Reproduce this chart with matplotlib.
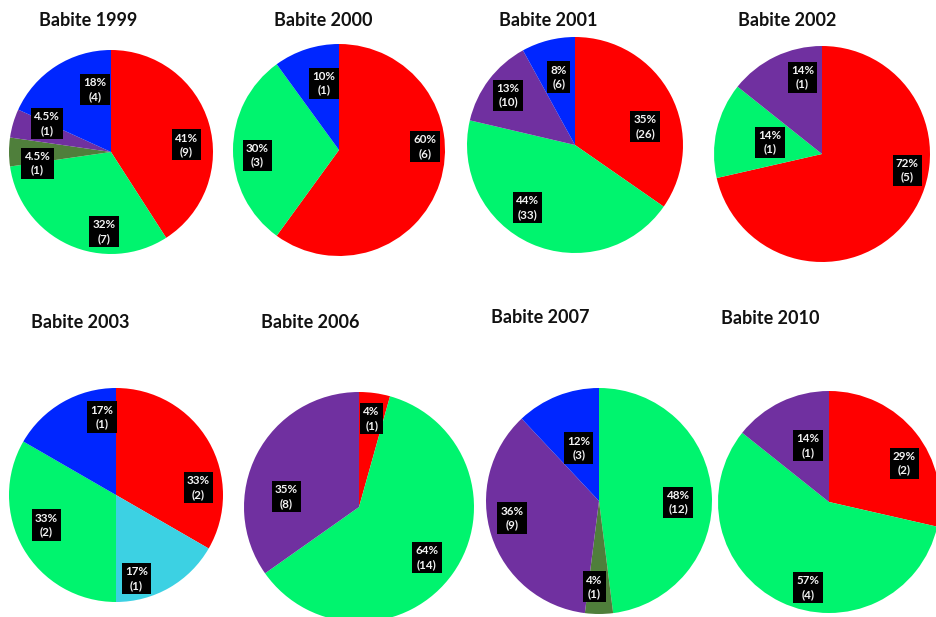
import matplotlib
matplotlib.use("Agg")
import matplotlib.pyplot as plt

plt.rcParams['font.family'] = ['Lato', 'DejaVu Sans']

W, H = 937, 617

# slice categories (colour keys), clockwise from 12 o'clock
cats_1999 = ["red", "green", "olive", "purple", "blue"]
counts_1999 = [9, 7, 1, 1, 4]
pcts_1999 = ["41%", "32%", "4.5%", "4.5%", "18%"]

cats_2000 = ["red", "green", "blue"]
counts_2000 = [6, 3, 1]
pcts_2000 = ["60%", "30%", "10%"]

cats_2001 = ["red", "green", "purple", "blue"]
counts_2001 = [26, 33, 10, 6]
pcts_2001 = ["35%", "44%", "13%", "8%"]

cats_2002 = ["red", "green", "purple"]
counts_2002 = [5, 1, 1]
pcts_2002 = ["72%", "14%", "14%"]

cats_2003 = ["red", "cyan", "green", "blue"]
counts_2003 = [2, 1, 2, 1]
pcts_2003 = ["33%", "17%", "33%", "17%"]

cats_2006 = ["red", "green", "purple"]
counts_2006 = [1, 14, 8]
pcts_2006 = ["4%", "64%", "35%"]

cats_2007 = ["green", "olive", "purple", "blue"]
counts_2007 = [12, 1, 9, 3]
pcts_2007 = ["48%", "4%", "36%", "12%"]

cats_2010 = ["red", "green", "purple"]
counts_2010 = [2, 4, 1]
pcts_2010 = ["29%", "57%", "14%"]

palette = {
    "red": "#FF0000",
    "green": "#00F46E",
    "olive": "#4F7F3B",
    "purple": "#7030A0",
    "blue": "#0026FF",
    "cyan": "#3CD1E3",
}

charts = [
    ("Babite 1999", cats_1999, counts_1999, pcts_1999),
    ("Babite 2000", cats_2000, counts_2000, pcts_2000),
    ("Babite 2001", cats_2001, counts_2001, pcts_2001),
    ("Babite 2002", cats_2002, counts_2002, pcts_2002),
    ("Babite 2003", cats_2003, counts_2003, pcts_2003),
    ("Babite 2006", cats_2006, counts_2006, pcts_2006),
    ("Babite 2007", cats_2007, counts_2007, pcts_2007),
    ("Babite 2010", cats_2010, counts_2010, pcts_2010),
]

# layout in pixels: pie centre x, centre y (from top), radius; title centre
pie_box = [(111, 152, 102), (339, 150, 106), (575, 145, 108), (822, 154, 108),
           (116, 495, 107), (359, 507, 115), (599, 501, 113), (829, 502, 111)]
title_xy = [(88, 21), (323, 21), (548, 20), (787, 21),
            (80, 322), (310, 323), (540, 318), (770, 319)]
# data-label positions in units of pie radius
label_xy = [
    [(0.74, 0.07), (-0.07, -0.78), (-0.72, -0.11), (-0.63, 0.28), (-0.16, 0.61)],
    [(0.81, 0.03), (-0.77, -0.05), (-0.14, 0.63)],
    [(0.65, 0.17), (-0.44, -0.58), (-0.62, 0.46), (-0.15, 0.63)],
    [(0.79, -0.15), (-0.48, 0.11), (-0.18, 0.71)],
    [(0.77, 0.07), (0.19, -0.78), (-0.65, -0.28), (-0.13, 0.73)],
    [(0.11, 0.77), (0.59, -0.44), (-0.63, 0.09)],
    [(0.70, -0.01), (-0.04, -0.76), (-0.77, -0.15), (-0.18, 0.47)],
    [(0.68, 0.35), (-0.19, -0.77), (-0.19, 0.51)],
]

fig = plt.figure(figsize=(W / 100, H / 100), dpi=100)
fig.patch.set_facecolor("white")

for i, (title, cats, counts, pcts) in enumerate(charts):
    cx, cy, r = pie_box[i]
    ax = fig.add_axes([(cx - r) / W, (H - cy - r) / H, 2 * r / W, 2 * r / H])
    ax.pie(counts, colors=[palette[c] for c in cats], startangle=90,
           counterclock=False, radius=1.0, wedgeprops=dict(linewidth=0))
    ax.set_xlim(-1, 1)
    ax.set_ylim(-1, 1)
    ax.set_aspect("equal")
    ax.axis("off")
    for (lx, ly), p, n in zip(label_xy[i], pcts, counts):
        ax.text(lx, ly, "%s\n(%d)" % (p, n), color="#F2F2F2", fontsize=8.4,
                fontweight="bold", ha="center", va="center", linespacing=1.3,
                bbox=dict(boxstyle="square,pad=0.28", fc="black", ec="none"))
    tx, ty = title_xy[i]
    fig.text(tx / W, 1 - ty / H, title, fontsize=13, fontweight="bold",
             ha="center", va="center", color="#111111")

fig.savefig("out.png", dpi=100)
